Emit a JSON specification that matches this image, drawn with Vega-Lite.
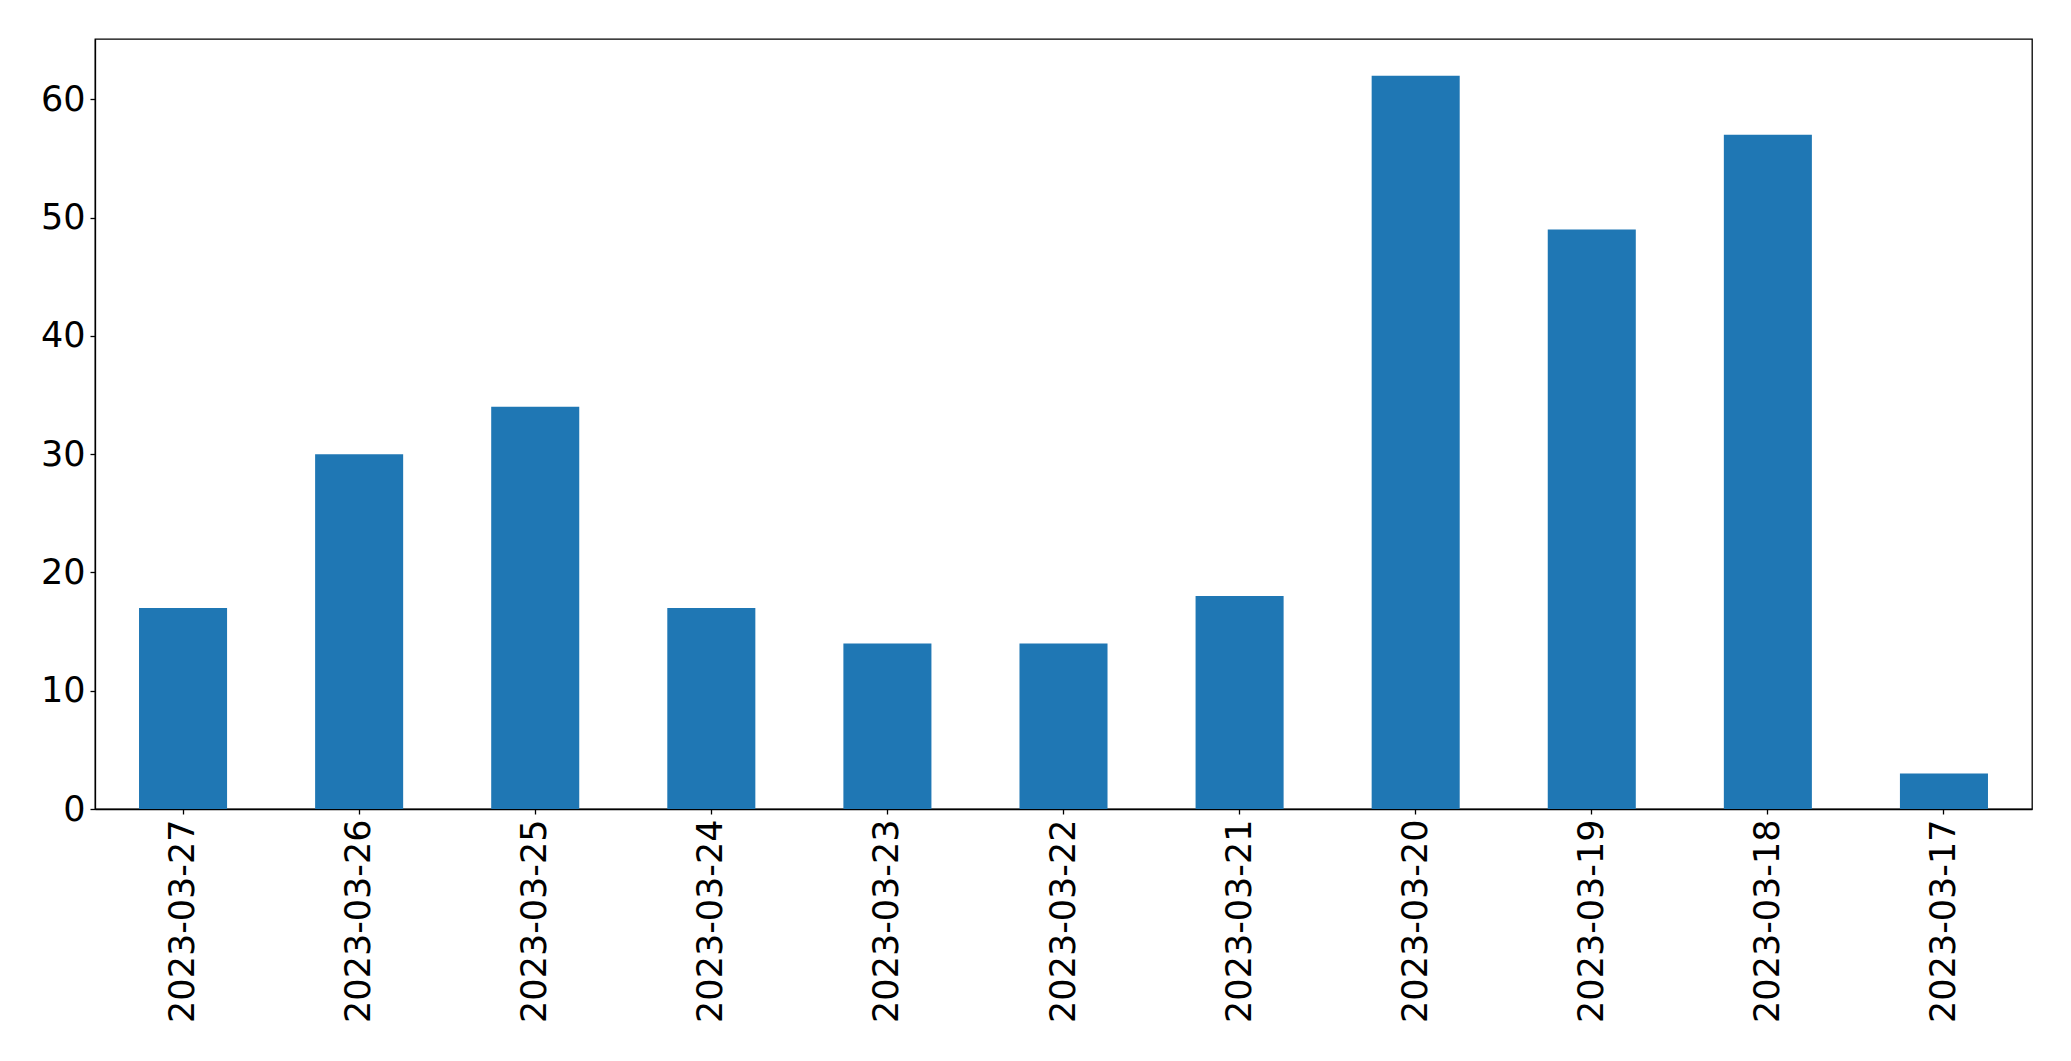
{
  "$schema": "https://vega.github.io/schema/vega-lite/v6.json",
  "autosize": "none",
  "padding": {"left": 95, "top": 39, "right": 39, "bottom": 252},
  "width": 1937,
  "height": 770,
  "background": "white",
  "config": {
    "view": {"stroke": "black", "strokeWidth": 1.3},
    "axis": {
      "labelFont": "DejaVu Sans",
      "labelFontSize": 35,
      "labelColor": "black",
      "labelLimit": 500,
      "domainColor": "black",
      "domainWidth": 1.3,
      "tickColor": "black",
      "tickWidth": 1.3,
      "tickSize": 5,
      "grid": false,
      "title": null
    }
  },
  "data": {
    "values": [
      {"date": "2023-03-27", "count": 17},
      {"date": "2023-03-26", "count": 30},
      {"date": "2023-03-25", "count": 34},
      {"date": "2023-03-24", "count": 17},
      {"date": "2023-03-23", "count": 14},
      {"date": "2023-03-22", "count": 14},
      {"date": "2023-03-21", "count": 18},
      {"date": "2023-03-20", "count": 62},
      {"date": "2023-03-19", "count": 49},
      {"date": "2023-03-18", "count": 57},
      {"date": "2023-03-17", "count": 3}
    ]
  },
  "mark": {"type": "bar", "color": "#1f77b4"},
  "encoding": {
    "x": {
      "field": "date",
      "type": "nominal",
      "sort": null,
      "scale": {"paddingInner": 0.5, "paddingOuter": 0.25},
      "axis": {"labelAngle": 270, "labelPadding": 5}
    },
    "y": {
      "field": "count",
      "type": "quantitative",
      "scale": {"domain": [0, 65.1], "nice": false},
      "axis": {"values": [0, 10, 20, 30, 40, 50, 60], "labelPadding": 5}
    }
  }
}
